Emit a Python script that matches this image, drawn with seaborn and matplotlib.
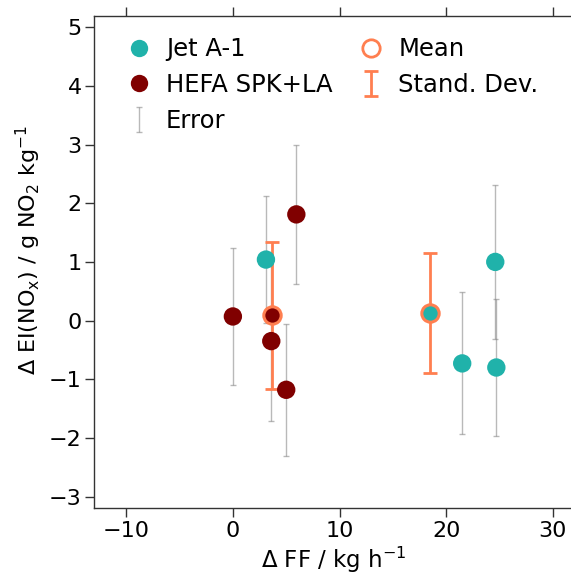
import matplotlib
matplotlib.use("Agg")
import matplotlib.pyplot as plt
from matplotlib.lines import Line2D
import seaborn as sns
import pandas as pd
import numpy as np

# ---- data ----
jet_ff = [3.1, 21.5, 24.6, 24.7]
jet_ei = [1.04, -0.73, 1.00, -0.80]
jet_err = [1.08, 1.21, 1.31, 1.17]

hefa_ff = [0.0, 3.6, 5.0, 5.95]
hefa_ei = [0.07, -0.35, -1.18, 1.81]
hefa_err = [1.16, 1.36, 1.13, 1.19]

fuels = ["Jet A-1", "HEFA SPK+LA"]
mean_ff = [18.5, 3.65]
mean_ei = [0.13, 0.09]
sd_ei = [1.02, 1.25]

colors = {"Jet A-1": "#20B2AA", "HEFA SPK+LA": "#800000"}
orange = "#FF7F50"

df = pd.DataFrame({
    "ff": jet_ff + hefa_ff,
    "ei": jet_ei + hefa_ei,
    "err": jet_err + hefa_err,
    "fuel": ["Jet A-1"] * len(jet_ff) + ["HEFA SPK+LA"] * len(hefa_ff),
})

sns.set_style("ticks")
plt.rcParams["font.family"] = ["DejaVu Sans"]
plt.rcParams["mathtext.default"] = "regular"
plt.rcParams["text.color"] = "black"
plt.rcParams["axes.labelcolor"] = "black"
plt.rcParams["xtick.color"] = "black"
plt.rcParams["ytick.color"] = "black"

fig = plt.figure(figsize=(5.71, 5.75), dpi=100)
ax = fig.add_axes([0.165, 0.116, 0.8406, 0.857])

# individual error bars
ax.errorbar(df["ff"], df["ei"], yerr=df["err"], fmt="none", ecolor="gray",
            alpha=0.55, elinewidth=1.0, capsize=2.5, capthick=1.0, zorder=1)

# standard deviation bars
ax.errorbar(mean_ff, mean_ei, yerr=sd_ei, fmt="none", ecolor=orange,
            elinewidth=2.0, capsize=5, capthick=2.0, zorder=2)

sns.scatterplot(data=df, x="ff", y="ei", hue="fuel", palette=colors,
                s=175, edgecolor="none", legend=False, ax=ax, zorder=3)

# means
for f, mx, my in zip(fuels, mean_ff, mean_ei):
    ax.plot([mx], [my], marker="o", ms=12.5, mfc=colors[f], mec=orange,
            mew=2.2, ls="none", zorder=4)

ax.set_xlim(-13, 32)
ax.set_ylim(-3.2, 5.2)
ax.set_xticks([-10, 0, 10, 20, 30])
ax.set_yticks([-3, -2, -1, 0, 1, 2, 3, 4, 5])
ax.tick_params(axis="both", which="both", labelsize=16, length=6.5,
               width=1.0, direction="out", top=True, right=False,
               color="#333333", labelcolor="black", pad=2.5)
for s in ["left", "bottom", "top"]:
    ax.spines[s].set_linewidth(1.0)
    ax.spines[s].set_color("#333333")
ax.spines["right"].set_visible(False)

ax.set_xlabel(r"$\Delta$ FF / kg h$^{-1}$", fontsize=16.5, labelpad=3)
ax.set_ylabel(r"$\Delta$ EI(NO$_\mathrm{x}$) / g NO$_2$ kg$^{-1}$", fontsize=16,
              labelpad=4)
ax.yaxis.label.set_y(0.524)

# legend
h_jet = Line2D([], [], marker="o", ls="none", ms=12.5, mfc=colors["Jet A-1"],
               mec="none")
h_hefa = Line2D([], [], marker="o", ls="none", ms=12.5,
                mfc=colors["HEFA SPK+LA"], mec="none")
h_err = ax.errorbar([np.nan], [np.nan], yerr=[1], fmt="none", ecolor="gray",
                    alpha=0.55, elinewidth=1.0, capsize=2.5, capthick=1.0)
h_mean = Line2D([], [], marker="o", ls="none", ms=12.5, mfc="none",
                mec=orange, mew=2.0)
h_sd = ax.errorbar([np.nan], [np.nan], yerr=[1], fmt="none", ecolor=orange,
                   elinewidth=2.0, capsize=5, capthick=2.0)
leg = ax.legend([h_jet, h_hefa, h_err, h_mean, h_sd],
                ["Jet A-1", "HEFA SPK+LA", "Error", "Mean", "Stand. Dev."],
                ncol=2, loc="upper left", bbox_to_anchor=(0, 1.018),
                frameon=False, fontsize=17.5,
                handlelength=1.2, handletextpad=0.5, columnspacing=1.0,
                labelspacing=0.49, borderaxespad=0.85)

fig.savefig("out.png", dpi=100)
